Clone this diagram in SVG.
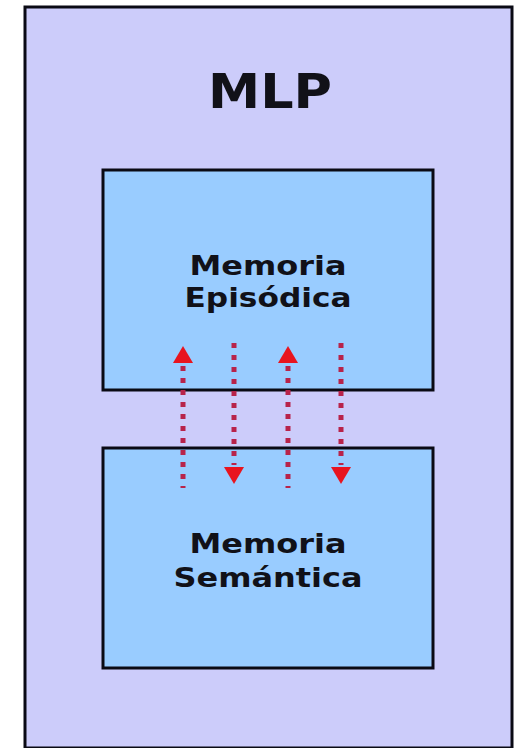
<svg xmlns="http://www.w3.org/2000/svg" width="518" height="748" viewBox="0 0 518 748">
  <style>
    .box { stroke: #0a0a14; stroke-width: 3; }
    .lbl { font-family: "DejaVu Sans", Verdana, sans-serif; font-weight: bold; fill: #111118; text-anchor: middle; }
    .dot { stroke: #b8234a; stroke-width: 5; stroke-dasharray: 5 7; fill: none; }
    .head { fill: #e8141e; }
  </style>
  <rect width="518" height="748" fill="#ffffff"/>
  <g id="mlp">
    <rect class="box" x="25" y="7" width="487" height="741" fill="#ccccfa"/>
    <text class="lbl" x="270" y="108" font-size="48" textLength="124" lengthAdjust="spacingAndGlyphs">MLP</text>
  </g>
  <g id="episodica">
    <rect class="box" x="103" y="170" width="330" height="220" fill="#99ccff"/>
    <text class="lbl" x="268" y="275" font-size="27" textLength="157" lengthAdjust="spacingAndGlyphs">Memoria</text>
    <text class="lbl" x="268" y="307" font-size="27" textLength="167" lengthAdjust="spacingAndGlyphs">Episódica</text>
  </g>
  <g id="semantica">
    <rect class="box" x="103" y="448" width="330" height="220" fill="#99ccff"/>
    <text class="lbl" x="268" y="553" font-size="27" textLength="157" lengthAdjust="spacingAndGlyphs">Memoria</text>
    <text class="lbl" x="268" y="587" font-size="27" textLength="189" lengthAdjust="spacingAndGlyphs">Semántica</text>
  </g>
  <g id="connectors">
    <line class="dot" x1="183" y1="366" x2="183" y2="488"/>
    <polygon class="head" points="183,346 173,363 193,363"/>
    <line class="dot" x1="288" y1="366" x2="288" y2="488"/>
    <polygon class="head" points="288,346 278,363 298,363"/>
    <line class="dot" x1="234" y1="343" x2="234" y2="465"/>
    <polygon class="head" points="234,484 224,467 244,467"/>
    <line class="dot" x1="341" y1="343" x2="341" y2="465"/>
    <polygon class="head" points="341,484 331,467 351,467"/>
  </g>
</svg>
